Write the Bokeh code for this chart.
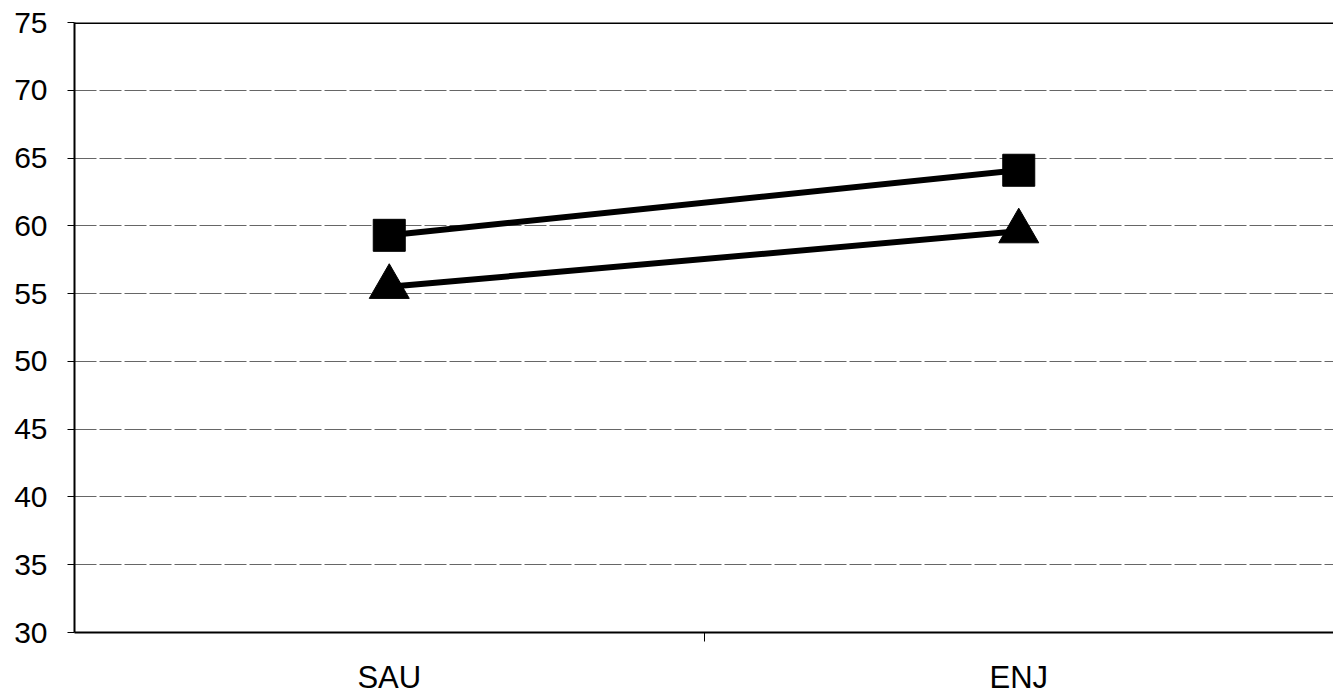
from bokeh.plotting import figure
from bokeh.models import Range1d, FixedTicker, Span
from bokeh.embed import file_html
from bokeh.resources import INLINE

categories = ["SAU", "ENJ"]
series_square = [59.3, 64.1]
series_triangle = [55.5, 59.6]
y_ticks = [30, 35, 40, 45, 50, 55, 60, 65, 70, 75]

# category centres on a numeric axis so that the between-category tick can be drawn
x_pos = [i + 0.5 for i in range(len(categories))]

p = figure(width=1333, height=697, x_range=Range1d(0, len(categories)),
           y_range=Range1d(30, 75), output_backend="svg", toolbar_location=None,
           min_border_left=74, min_border_right=0, min_border_top=22, min_border_bottom=64)
p.outline_line_color = None
p.background_fill_color = "white"
p.border_fill_color = "white"

p.xgrid.grid_line_color = None
p.ygrid.grid_line_color = "#666666"
p.ygrid.grid_line_width = 1
p.ygrid.grid_line_dash = "22 3"

p.yaxis.ticker = FixedTicker(ticks=y_ticks)
p.yaxis.minor_tick_line_color = None
p.yaxis.major_tick_out = 7
p.yaxis.major_tick_in = 0
p.yaxis.major_tick_line_color = "black"
p.yaxis.major_tick_line_width = 1
p.yaxis.axis_line_color = "black"
p.yaxis.axis_line_width = 2
p.yaxis.major_label_text_font = "Liberation Sans"
p.yaxis.major_label_text_font_size = "30px"
p.yaxis.major_label_text_color = "black"
p.yaxis.major_label_standoff = 20

p.xaxis.ticker = FixedTicker(ticks=x_pos, minor_ticks=[i for i in range(1, len(categories))])
p.xaxis.major_label_overrides = {x: c for x, c in zip(x_pos, categories)}
p.xaxis.major_tick_line_color = None
p.xaxis.major_tick_out = 0
p.xaxis.minor_tick_line_color = "black"
p.xaxis.minor_tick_out = 9
p.xaxis.minor_tick_in = 0
p.xaxis.axis_line_color = "black"
p.xaxis.axis_line_width = 2
p.xaxis.major_label_text_font = "Liberation Sans"
p.xaxis.major_label_text_font_size = "31px"
p.xaxis.major_label_text_color = "black"
p.xaxis.major_label_standoff = 18

p.add_layout(Span(location=75, dimension="width", line_color="black", line_width=3))

p.line(x_pos, series_square, line_color="black", line_width=6)
p.line(x_pos, series_triangle, line_color="black", line_width=6)
p.scatter(x_pos, series_square, marker="square", size=32, fill_color="black", line_color="black")
p.scatter(x_pos, series_triangle, marker="triangle", size=40, fill_color="black", line_color="black")

open("out.html", "w").write(file_html(p, INLINE))
